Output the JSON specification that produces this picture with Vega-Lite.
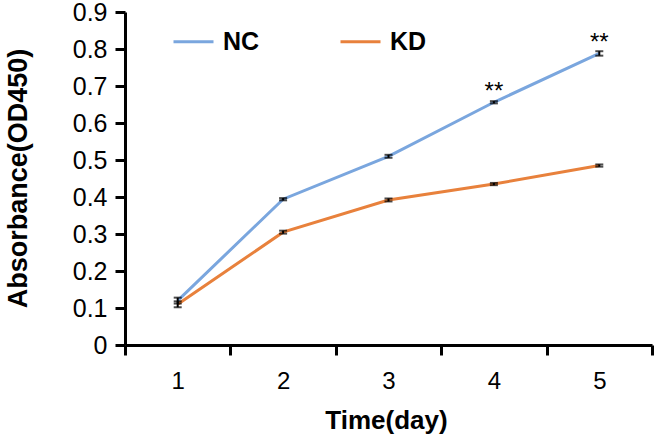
{
  "$schema": "https://vega.github.io/schema/vega-lite/v6.json",
  "width": 527,
  "height": 333,
  "autosize": {"type": "none"},
  "padding": {"left": 125, "top": 12, "right": 2, "bottom": 92},
  "background": "white",
  "data": {
    "values": [
      {"day": 1, "group": "NC", "value": 0.12, "err": 0.008, "sig": ""},
      {"day": 2, "group": "NC", "value": 0.394, "err": 0.003, "sig": ""},
      {"day": 3, "group": "NC", "value": 0.51, "err": 0.004, "sig": ""},
      {"day": 4, "group": "NC", "value": 0.656, "err": 0.003, "sig": "**"},
      {"day": 5, "group": "NC", "value": 0.788, "err": 0.006, "sig": "**"},
      {"day": 1, "group": "KD", "value": 0.11, "err": 0.008, "sig": ""},
      {"day": 2, "group": "KD", "value": 0.305, "err": 0.004, "sig": ""},
      {"day": 3, "group": "KD", "value": 0.392, "err": 0.004, "sig": ""},
      {"day": 4, "group": "KD", "value": 0.435, "err": 0.003, "sig": ""},
      {"day": 5, "group": "KD", "value": 0.485, "err": 0.003, "sig": ""}
    ]
  },
  "encoding": {
    "x": {
      "field": "day",
      "type": "ordinal",
      "scale": {"type": "band", "paddingInner": 0, "paddingOuter": 0},
      "axis": {
        "title": "Time(day)",
        "labelAngle": 0,
        "tickBand": "extent",
        "labelFontSize": 24,
        "labelPadding": 14,
        "titleFontSize": 26,
        "titleX": 261,
        "titleY": 83,
        "titleBaseline": "alphabetic"
      }
    },
    "y": {
      "field": "value",
      "type": "quantitative",
      "scale": {"domain": [0, 0.9], "nice": false},
      "axis": {
        "title": "Absorbance(OD450)",
        "values": [0, 0.1, 0.2, 0.3, 0.4, 0.5, 0.6, 0.7, 0.8, 0.9],
        "format": "~g",
        "labelFontSize": 25,
        "labelPadding": 8,
        "titleFontSize": 27,
        "titleAngle": -90,
        "titleX": -99,
        "titleY": 166,
        "titleAlign": "center",
        "titleBaseline": "alphabetic"
      }
    }
  },
  "layer": [
    {
      "mark": {"type": "line", "strokeWidth": 3},
      "encoding": {
        "color": {
          "field": "group",
          "type": "nominal",
          "scale": {"domain": ["NC", "KD"], "range": ["#7AA6DE", "#E8813C"]},
          "legend": {
            "title": null,
            "orient": "none",
            "legendX": 47,
            "legendY": 8,
            "direction": "horizontal",
            "symbolType": "stroke",
            "symbolSize": 1600,
            "symbolStrokeWidth": 3,
            "labelFontSize": 25,
            "labelFontWeight": "bold",
            "labelColor": "black",
            "labelOffset": 8,
            "columnPadding": 74
          }
        }
      }
    },
    {
      "mark": {"type": "errorbar", "color": "black", "thickness": 2, "ticks": {"size": 8, "thickness": 2}},
      "encoding": {
        "yError": {"field": "err"}
      }
    },
    {
      "mark": {"type": "text", "fontSize": 24, "baseline": "alphabetic", "align": "center", "dy": -3, "color": "black"},
      "encoding": {
        "text": {"field": "sig"}
      }
    }
  ],
  "config": {
    "font": "Liberation Sans",
    "view": {"stroke": null},
    "axis": {
      "grid": false,
      "domainColor": "black",
      "domainWidth": 3,
      "tickColor": "black",
      "tickWidth": 3,
      "tickSize": 10,
      "labelColor": "black",
      "labelFont": "Liberation Sans",
      "titleFont": "Liberation Sans",
      "titleFontWeight": "bold",
      "titleColor": "black"
    }
  }
}
